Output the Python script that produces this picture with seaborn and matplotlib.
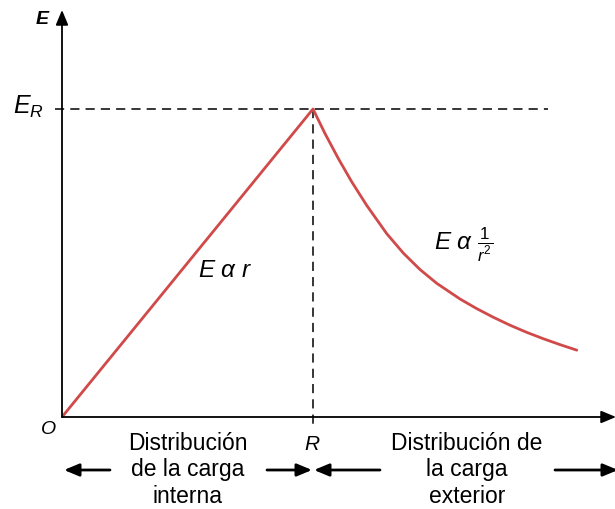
import matplotlib
matplotlib.use("Agg")
import matplotlib.pyplot as plt
import seaborn as sns
import pandas as pd

sns.set_style("white")
plt.rcParams['font.family'] = ['Liberation Sans', 'DejaVu Sans']
plt.rcParams['text.color'] = 'black'
plt.rcParams['mathtext.fontset'] = 'custom'
plt.rcParams['mathtext.rm'] = 'Liberation Sans'
plt.rcParams['mathtext.it'] = 'Liberation Sans:italic'
plt.rcParams['mathtext.bf'] = 'Liberation Sans:bold'

# Field inside (linear) and outside (falls as 1/r^2), in units of R and E_R
r_inside = [0.0, 1.0]
E_inside = [0.0, 1.0]
r_outside = [1.0, 1.048, 1.101, 1.154, 1.214, 1.294, 1.360, 1.426, 1.493, 1.586,
             1.652, 1.718, 1.785, 1.851, 1.918, 1.984, 2.051]
E_outside = [1.0, 0.920, 0.839, 0.764, 0.687, 0.595, 0.532, 0.479, 0.434, 0.383,
             0.352, 0.324, 0.298, 0.275, 0.254, 0.235, 0.217]

x_label = "r"
y_label = "E"
peak_label = "$E_R$"
origin_label = "O"
radius_label = "R"
inside_label = "Distribución\nde la carga\ninterna"
outside_label = "Distribución de\nla carga\nexterior"
inside_formula = r"$E\ \alpha\ r$"
outside_formula = r"$E\ \alpha\ \frac{1}{r^2}$"

df = pd.DataFrame({"r": r_inside + r_outside, "E": E_inside + E_outside})

W, H = 615, 510
x0, y0 = 62, 418          # pixel of origin
sx, sy = 251, 308          # pixels per unit
fig = plt.figure(figsize=(W / 100, H / 100), dpi=100)
ax = fig.add_axes([x0 / W, (H - y0) / H, (W - x0) / W, (y0 - 12) / H])
ax.set_xlim(0, (W - x0) / sx)
ax.set_ylim(0, (y0 - 12) / sy)
ax.axis("off")

def px(x):
    return (x - x0) / sx

def py(y):
    return (y0 - y) / sy

red = "#d04a4a"
sns.lineplot(data=df, x="r", y="E", sort=False, color=red, lw=2.0, ax=ax, zorder=3)

# dashed reference lines
ax.plot([px(55), px(548)], [1, 1], color="black", lw=1.1, dashes=(6, 4), clip_on=False)
ax.plot([1, 1], [1, py(429)], color="black", lw=1.1, dashes=(6, 4), clip_on=False)

arrow = dict(arrowstyle="-|>,head_length=0.6,head_width=0.25", mutation_scale=15,
             color="black", lw=1.3, shrinkA=0, shrinkB=0)
# axes with arrows
ax.annotate("", xy=(px(616), 0), xytext=(0, 0), arrowprops=arrow, annotation_clip=False)
ax.annotate("", xy=(0, py(11)), xytext=(0, 0), arrowprops=arrow, annotation_clip=False)

# region arrows
ay = py(471)
arrow2 = dict(arrow, lw=2.0)
ax.annotate("", xy=(px(64), ay), xytext=(px(110), ay), arrowprops=arrow2, annotation_clip=False)
ax.annotate("", xy=(px(312), ay), xytext=(px(267), ay), arrowprops=arrow2, annotation_clip=False)
ax.annotate("", xy=(px(314), ay), xytext=(px(380), ay), arrowprops=arrow2, annotation_clip=False)
ax.annotate("", xy=(px(618), ay), xytext=(px(555), ay), arrowprops=arrow2, annotation_clip=False)

# labels
ax.text(px(42), py(20), y_label, fontsize=14, fontweight="bold", fontstyle="italic",
        ha="center", va="center", clip_on=False)
ax.text(px(619), py(436), x_label, fontsize=14, fontstyle="italic",
        ha="center", va="center", clip_on=False)
ax.text(px(28), py(107), peak_label, fontsize=18, ha="center", va="center", clip_on=False)
ax.text(px(48), py(430), origin_label, fontsize=14, fontstyle="italic",
        ha="center", va="center", clip_on=False)
ax.text(px(312), py(445), radius_label, fontsize=15, fontstyle="italic",
        ha="center", va="center", clip_on=False)
ax.text(px(225), py(271), inside_formula, fontsize=17.5, ha="center", va="center")
ax.text(px(464), py(245), outside_formula, fontsize=17.5, ha="center", va="center")
ax.text(px(188), py(470), inside_label, fontsize=16.5, ha="center", va="center",
        linespacing=1.22, clip_on=False)
ax.text(px(467), py(470), outside_label, fontsize=16.5, ha="center", va="center",
        linespacing=1.22, clip_on=False)

fig.savefig("out.png", dpi=100)
